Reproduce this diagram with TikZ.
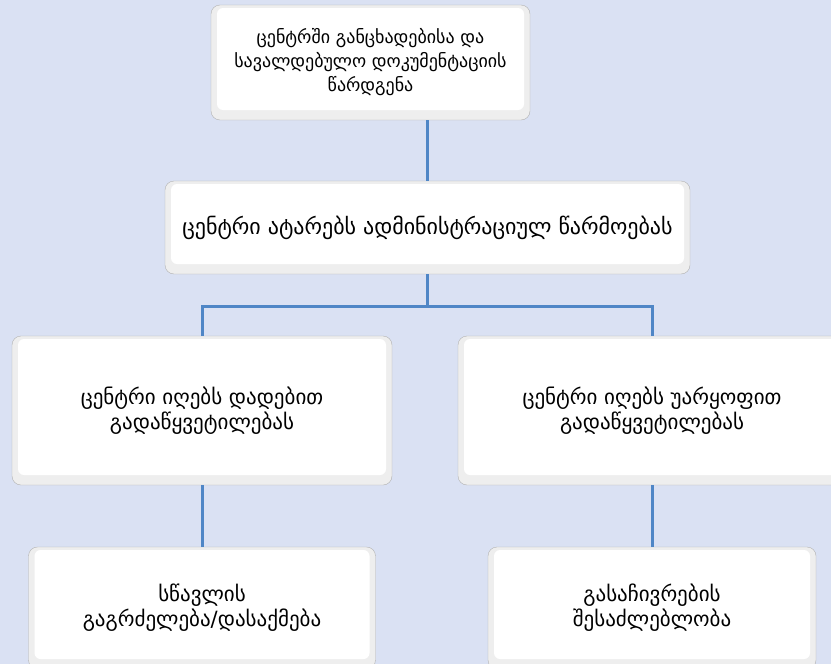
\documentclass[tikz,border=0pt]{standalone}
\usepackage{fontspec}
\setmainfont{DejaVu Sans}
\definecolor{bgblue}{RGB}{218,225,243}
\definecolor{linkblue}{RGB}{79,134,198}
\begin{document}
\begin{tikzpicture}[x=1pt, y=-1pt,
    card/.style={draw=gray!60, fill=gray!13, rounded corners=9pt, align=center, inner sep=0pt,
        font=\fontsize{21}{25}\selectfont,
        path picture={\fill[white, rounded corners=6pt]
            ([shift={(6pt,10pt)}]path picture bounding box.south west) rectangle
            ([shift={(-6pt,-3pt)}]path picture bounding box.north east);}},
    link/.style={linkblue, line width=3pt}]
    \fill[bgblue] (0,0) rectangle (831,664);
    \useasboundingbox (0,0) rectangle (831,664);

    % boxes
    \node[card, minimum width=319pt, minimum height=115pt, font=\fontsize{18}{24}\selectfont] (submit) at (370.5,62.5)
        {ცენტრში განცხადებისა და\\სავალდებულო დოკუმენტაციის\\წარდგენა};
    \node[card, minimum width=525pt, minimum height=93pt, font=\fontsize{22}{26}\selectfont] (proceed) at (427.5,227.5)
        {ცენტრი ატარებს ადმინისტრაციულ წარმოებას};
    \node[card, minimum width=380pt, minimum height=149pt] (positive) at (202,410.5)
        {ცენტრი იღებს დადებით\\გადაწყვეტილებას};
    \node[card, minimum width=388pt, minimum height=149pt] (negative) at (652,410.5)
        {ცენტრი იღებს უარყოფით\\გადაწყვეტილებას};
    \node[card, minimum width=347pt, minimum height=122pt] (study) at (202,608)
        {სწავლის\\გაგრძელება/დასაქმება};
    \node[card, minimum width=328pt, minimum height=122pt] (appeal) at (652,608)
        {გასაჩივრების\\შესაძლებლობა};

    % connectors
    \coordinate (fork) at (proceed.south |- 0,306);
    \draw[link] (proceed.north) -- (proceed.north |- submit.south);
    \draw[link] (proceed.south) -- (fork);
    \draw[link] (positive.north) |- (fork) -| (negative.north);
    \draw[link] (positive.south) -- (study.north);
    \draw[link] (negative.south) -- (appeal.north);
\end{tikzpicture}
\end{document}
